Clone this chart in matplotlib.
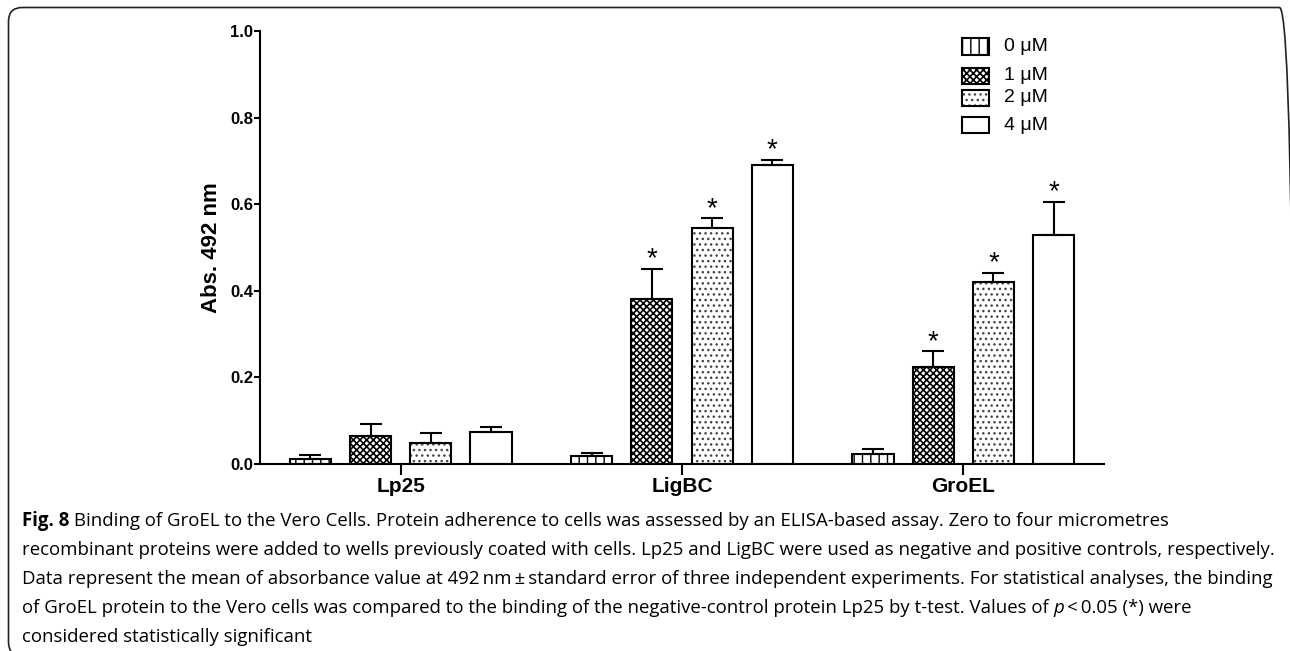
import matplotlib
matplotlib.use("Agg")
import matplotlib.pyplot as plt
import numpy as np
from matplotlib.patches import FancyBboxPatch, Rectangle

# ---- data -------------------------------------------------------------
proteins = ["Lp25", "LigBC", "GroEL"]
concentrations = ["0 \u03bcM", "1 \u03bcM", "2 \u03bcM", "4 \u03bcM"]

# mean absorbance at 492 nm, one list per concentration (Lp25, LigBC, GroEL)
abs_0uM = [0.012, 0.018, 0.022]
abs_1uM = [0.065, 0.380, 0.223]
abs_2uM = [0.049, 0.546, 0.420]
abs_4uM = [0.073, 0.690, 0.528]

# standard error (upper bars only)
sem_0uM = [0.009, 0.008, 0.013]
sem_1uM = [0.027, 0.070, 0.037]
sem_2uM = [0.022, 0.021, 0.022]
sem_4uM = [0.012, 0.012, 0.078]

# significance flags (p < 0.05)
sig_0uM = [False, False, False]
sig_1uM = [False, True, True]
sig_2uM = [False, True, True]
sig_4uM = [False, True, True]

y_ticks = [0.0, 0.2, 0.4, 0.6, 0.8, 1.0]
y_label = "Abs. 492 nm"

caption_lines = [
    "Binding of GroEL to the Vero Cells. Protein adherence to cells was assessed by an ELISA-based assay. Zero to four micrometres",
    "recombinant proteins were added to wells previously coated with cells. Lp25 and LigBC were used as negative and positive controls, respectively.",
    "Data represent the mean of absorbance value at 492\u2009nm\u2009\u00b1\u2009standard error of three independent experiments. For statistical analyses, the binding",
    "of GroEL protein to the Vero cells was compared to the binding of the negative-control protein Lp25 by t-test. Values of ",
    "considered statistically significant",
]

means = [abs_0uM, abs_1uM, abs_2uM, abs_4uM]
sems = [sem_0uM, sem_1uM, sem_2uM, sem_4uM]
sigs = [sig_0uM, sig_1uM, sig_2uM, sig_4uM]

# fill pattern per concentration: (hatch, hatch colour, hatch line width)
fills = [("||", "black", 1.0),
         ("xxxxx", "black", 1.2),
         ("...", "#444444", 1.0),
         ("", "black", 1.0)]

# ---- figure -----------------------------------------------------------
W, H = 1290, 651
DPI = 100
plt.rcParams["font.family"] = ["Liberation Sans", "DejaVu Sans"]

fig = plt.figure(figsize=(W / DPI, H / DPI), dpi=DPI)


def px_box(x0, y0, x1, y1):
    """Figure-fraction rectangle from pixel corners (top-left origin)."""
    return [x0 / W, 1 - y1 / H, (x1 - x0) / W, (y1 - y0) / H]


ax = fig.add_axes(px_box(260, 31, 1104, 464))

x = np.arange(len(proteins))
step = 0.214
width = 0.146
lw = 1.5

for i, (m, e, s, (h, hc, hl)) in enumerate(zip(means, sems, sigs, fills)):
    pos = x + (i - 1.5) * step
    # pattern layer
    if h:
        with plt.rc_context({"hatch.linewidth": hl}):
            ax.bar(pos, m, width=width, facecolor="white", edgecolor=hc,
                   linewidth=0, hatch=h, zorder=2)
    # outline layer
    ax.bar(pos, m, width=width, facecolor="none", edgecolor="black",
           linewidth=lw, zorder=2.5)
    ax.errorbar(pos, m, yerr=[np.zeros(len(m)), e], fmt="none",
                ecolor="black", elinewidth=lw, capsize=7.8, capthick=lw,
                zorder=3)
    for p, mv, ev, flag in zip(pos, m, e, s):
        if flag:
            ax.annotate("*", (p, mv + ev), xytext=(0, -2.5),
                        textcoords="offset points", ha="center",
                        va="bottom", fontsize=20, zorder=4)

ax.set_xlim(-0.5, 2.5)
ax.set_ylim(0, 1.0)
ax.set_yticks(y_ticks)
ax.set_yticklabels([f"{t:.1f}" for t in y_ticks], fontsize=12,
                   fontweight="bold")
ax.set_xticks(x)
ax.set_xticklabels(proteins, fontsize=15, fontweight="bold")
ax.tick_params(axis="y", length=4, width=lw, pad=1)
ax.tick_params(axis="x", length=8, width=lw, pad=1)
ax.set_ylabel(y_label, fontsize=16, fontweight="bold", labelpad=6)
for side in ("top", "right"):
    ax.spines[side].set_visible(False)
for side in ("left", "bottom"):
    ax.spines[side].set_linewidth(lw)

# ---- legend -------------------------------------------------------------
legend_rows = [(38, 55), (68, 84), (90, 106), (117, 133)]
for (y0, y1), lab, (h, hc, hl) in zip(legend_rows, concentrations, fills):
    rect = (962 / W, 1 - y1 / H)
    rw, rh = 27 / W, (y1 - y0) / H
    if h:
        with plt.rc_context({"hatch.linewidth": hl}):
            fig.patches.append(Rectangle(rect, rw, rh,
                                         transform=fig.transFigure,
                                         facecolor="white", edgecolor=hc,
                                         linewidth=0, hatch=h))
    fig.patches.append(Rectangle(rect, rw, rh, transform=fig.transFigure,
                                 facecolor="none", edgecolor="black",
                                 linewidth=lw))
    fig.text(1004 / W, 1 - (y0 + y1) / 2 / H, lab, fontsize=14,
             va="center", ha="left")

# ---- frame ------------------------------------------------------------
fx0, fy0, fx1, fy1 = 8.5, 7.5, 1293.5, 656
frame = FancyBboxPatch((fx0 / W, 1 - fy1 / H), (fx1 - fx0) / W,
                       (fy1 - fy0) / H,
                       boxstyle="round,pad=0,rounding_size=%f" % (14 / W),
                       transform=fig.transFigure, facecolor="none",
                       edgecolor="#222222", linewidth=1.2,
                       mutation_aspect=W / H, clip_on=False)
fig.patches.append(frame)

# ---- caption ----------------------------------------------------------
cap_font = ["Open Sans", "DejaVu Sans"]
cap_size = 13.4
cap_x = 22 / W
line_y = [521, 550, 579, 608, 637]

fig.canvas.draw()
renderer = fig.canvas.get_renderer()


def run(pieces, y):
    """Lay out a sequence of (text, style) pieces on one line."""
    xp = cap_x
    for txt, kw in pieces:
        t = fig.text(xp, 1 - y / H, txt, fontsize=cap_size, va="center",
                     ha="left", family=cap_font, **kw)
        bb = t.get_window_extent(renderer)
        xp += bb.width / W


run([("Fig. 8", {"fontweight": "bold"}), (" " + caption_lines[0], {})],
    line_y[0])
run([(caption_lines[1], {})], line_y[1])
run([(caption_lines[2], {})], line_y[2])
run([(caption_lines[3], {}), ("p", {"style": "italic"}),
     ("\u2009<\u20090.05 (*) were", {})], line_y[3])
run([(caption_lines[4], {})], line_y[4])

fig.savefig("out.png", dpi=DPI)
